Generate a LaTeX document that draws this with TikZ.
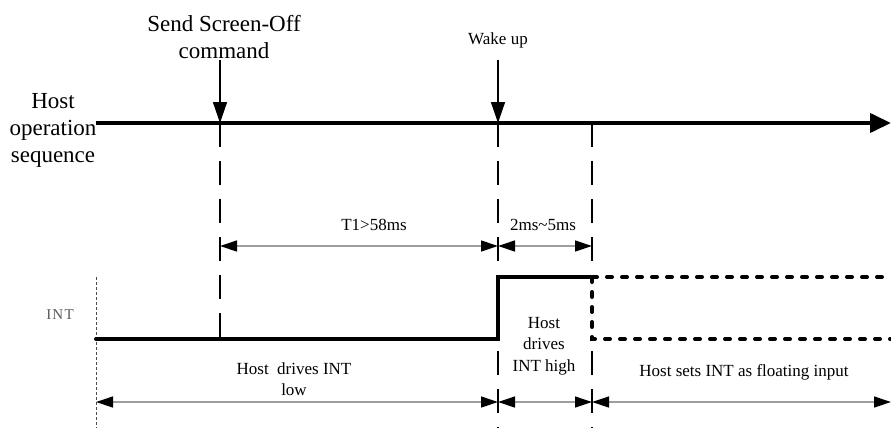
\documentclass[tikz,border=0pt]{standalone}
\usepackage{fontspec}
\setmainfont{Liberation Serif}
\usetikzlibrary{arrows.meta}
\begin{document}
\begin{tikzpicture}[x=1pt,y=-1pt,
  txt/.style={inner sep=0pt,align=center,font=\fontsize{17}{21.5}\selectfont},
  bigtxt/.style={inner sep=0pt,align=center,font=\fontsize{23}{27}\selectfont},
  sig/.style={line width=4pt},
  floatsig/.style={line width=4pt,line cap=round,dash pattern=on 5pt off 10pt},
  vdash/.style={line width=1.5pt,dash pattern=on 24pt off 14pt},
  event/.style={line width=1.5pt,-{Triangle[length=21pt,width=14pt]}},
  dimline/.style={draw=black!38,line width=1.3pt,
    {Triangle[length=17pt,width=11pt,color=black]}-{Triangle[length=17pt,width=11pt,color=black]}},
  guide/.style={draw=black!70,line width=0.8pt,dash pattern=on 3pt off 2pt}
]
\useasboundingbox (0,0) rectangle (891,428);

% coordinates
\coordinate (hs) at (96,123);
\coordinate (he) at (891,123);
\coordinate (a1) at (220,123);
\coordinate (a2) at (498,123);
\coordinate (a3) at (592,123);
\coordinate (t1) at (220,60);
\coordinate (t2) at (498,60);
\coordinate (b1) at (220,337);
\coordinate (b2) at (498,428);
\coordinate (b3) at (592,428);
\coordinate (l0) at (96,339);
\coordinate (l1) at (498,339);
\coordinate (h1) at (498,277);
\coordinate (h2) at (592,277);
\coordinate (l2) at (592,339);
\coordinate (fe1) at (891,277);
\coordinate (fe2) at (891,339);
\coordinate (g0) at (96,277);
\coordinate (g1) at (96,428);
\coordinate (d1) at (220,246);
\coordinate (d2) at (498,246);
\coordinate (d3) at (592,246);
\coordinate (e0) at (96,402);
\coordinate (e1) at (498,402);
\coordinate (e2) at (592,402);
\coordinate (e3) at (891,402);

% texts
\node[bigtxt] (host) at (53,130) {Host\\operation\\sequence};
\node[bigtxt] (send) at (224,37) {Send Screen-Off\\command};
\node[txt] (wake) at (498,40) {Wake up};
\node[txt] (tone) at (374,225) {T1>58ms};
\node[txt] (ttwo) at (543,225) {2ms\textasciitilde5ms};
\node[inner sep=0pt,text=black!65,font=\fontsize{15}{17}\selectfont\addfontfeature{LetterSpace=8}] (int) at (60,315) {INT};
\node[txt] (low) at (294,379) {Host\ \ drives INT\\low};
\node[txt] (high) at (544,346) {Host\\drives\\INT high};
\node[txt] (float) at (744,372) {Host sets INT as floating input};

% vertical guides
\draw[vdash] (a1) -- (b1);
\draw[vdash] (a2) -- (b2);
\draw[vdash] (a3) -- (b3);
\draw[guide] (g0) -- (g1);

% host operation line
\draw[sig,-{Triangle[length=21pt,width=19pt]}] (hs) -- (he);
\draw[event] (t1) -- (a1);
\draw[event] (t2) -- (a2);

% INT signal
\draw[sig,line cap=round] (l0) -- (l1) -- (h1) -- (h2);
\draw[white,line width=2.5pt] (h2) -- (l2);
\draw[floatsig] (h2) -- (fe1);
\draw[floatsig] (h2) -- (l2) -- (fe2);

% dimensions
\draw[dimline] (d1) -- (d2);
\draw[dimline] (d2) -- (d3);
\draw[dimline] (e0) -- (e1);
\draw[dimline] (e1) -- (e2);
\draw[dimline] (e2) -- (e3);
\end{tikzpicture}
\end{document}
